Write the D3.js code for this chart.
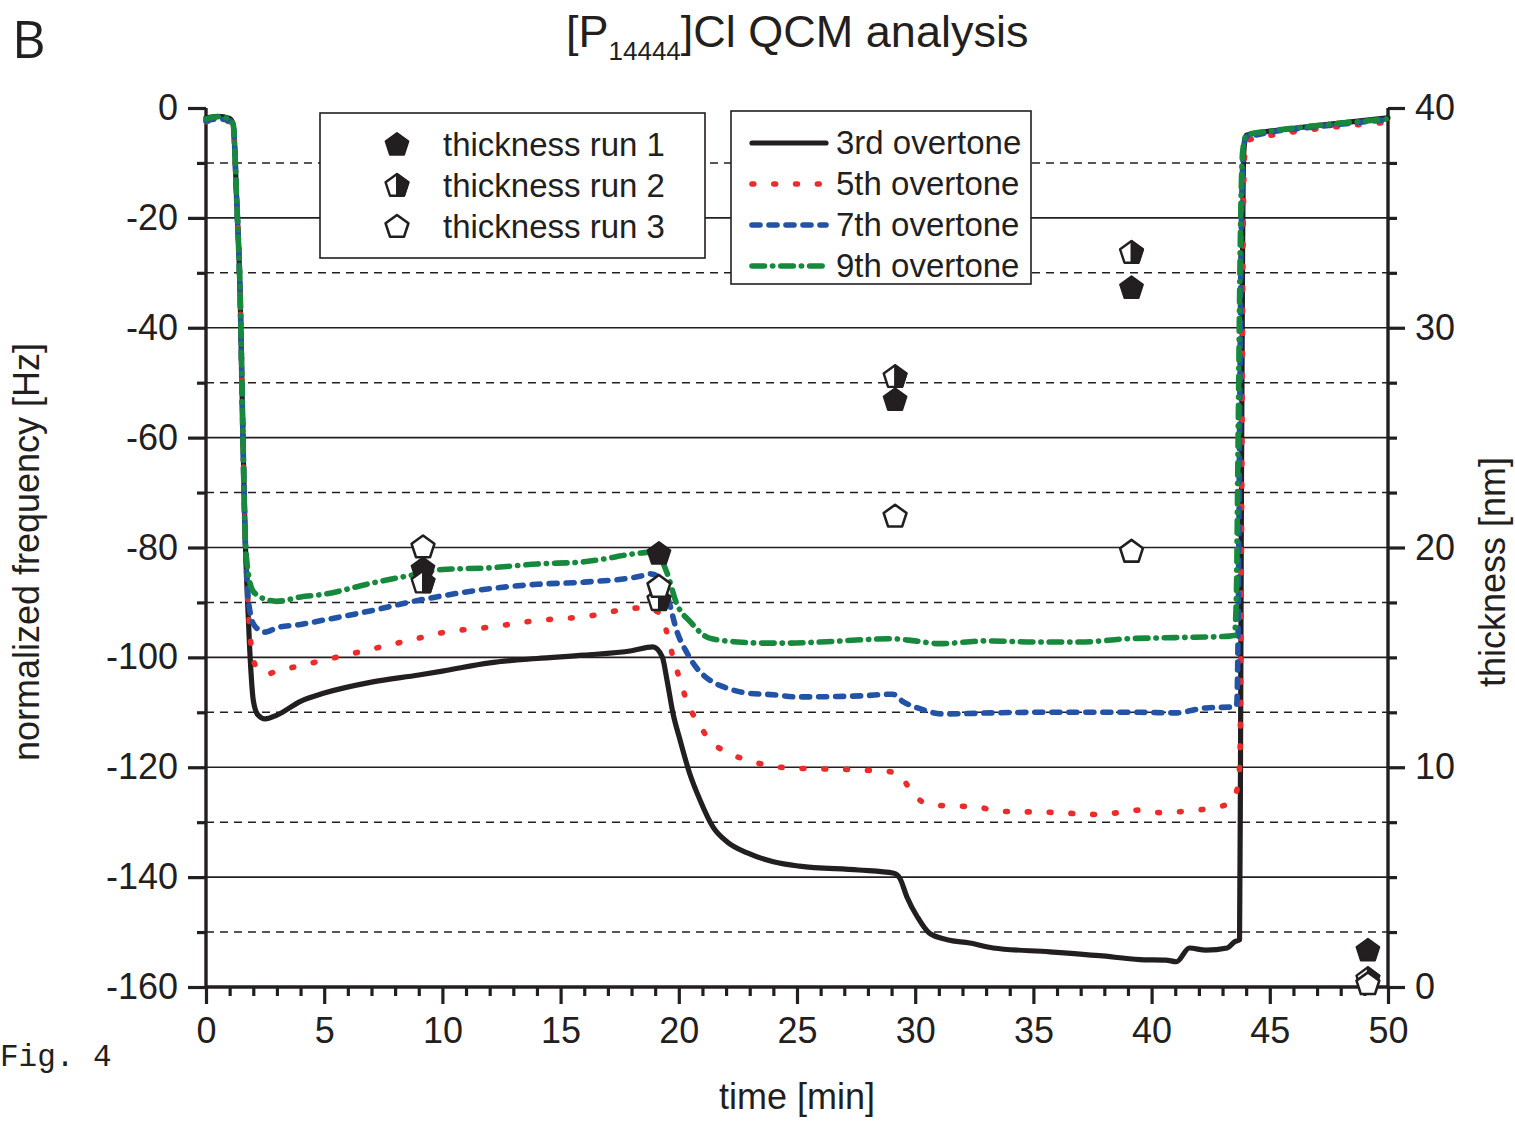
<!DOCTYPE html>
<html><head><meta charset="utf-8">
<script src="https://cdn.jsdelivr.net/npm/d3@7"></script>
<style>body{margin:0;background:#fff}svg{display:block}</style>
</head><body>
<svg id="c" width="1515" height="1121" font-family="Liberation Sans, Arial, sans-serif"></svg>
<script>
// ---- data ----
const t3 = [0,0.5,1.0,1.15,1.3,1.45,1.55,1.65,1.75,1.85,2.0,2.2,2.5,3,4,5,7,9,10,12,14,16,18,18.9,19.3,19.5,19.75,20.05,20.45,20.9,21.45,22.05,22.9,24,25.1,27.6,29.1,29.35,29.65,30.1,30.6,31.35,32.3,33.3,35.7,37.8,39.5,40.6,41.05,41.6,42.3,43.2,43.5,43.72,43.76,43.8,43.85,43.9,44.0,44.5,45,47,50];
const f3 = [-1.8,-1.5,-1.9,-3,-17,-35,-57,-77,-89,-98.6,-107.8,-110.5,-111.2,-110.5,-108,-106.5,-104.5,-103.2,-102.5,-101,-100.2,-99.6,-98.8,-98.1,-99.9,-104.1,-110.1,-115,-121,-126,-130.9,-133.6,-135.6,-137.2,-138.0,-138.7,-139.3,-140.2,-143.6,-147.3,-150.2,-151.4,-152.0,-152.9,-153.6,-154.3,-155.0,-155.1,-155.4,-152.9,-153.3,-152.9,-151.8,-151.4,-120,-70,-25,-8,-5,-4.5,-4.2,-3.2,-1.8];
const t5 = [0,0.5,1.0,1.15,1.3,1.45,1.55,1.65,1.75,1.85,2.0,2.3,2.6,3,4,5,7,9,10,12,14,16,18.4,19.1,19.55,19.75,20.05,20.35,20.8,21.3,22.1,22.9,23.7,24.6,27.7,29.1,29.35,29.8,30.4,31.2,32.6,33.5,35.7,37.8,39.5,40.5,41.2,41.9,42.6,43.3,43.5,43.65,43.74,43.8,43.86,43.92,44.0,44.3,45,47,50];
const f5 = [-2.5,-2.2,-2.5,-3.5,-17,-35,-57,-77,-88,-95,-100.5,-102.5,-103,-102.5,-101.5,-100.5,-98.5,-96.5,-95.5,-94.5,-93.3,-92.6,-91.0,-91.7,-96.3,-99.9,-104.1,-108.1,-111.8,-115,-117.4,-118.7,-119.6,-120.1,-120.5,-120.9,-121.4,-124.1,-126.5,-127,-127.2,-128,-128.2,-128.6,-127.8,-128.3,-128.1,-127.8,-127.4,-126.5,-125.4,-123.2,-118,-80,-30,-10,-6,-5.6,-5.0,-3.8,-2.6];
const t7 = [0,0.5,1.0,1.15,1.3,1.45,1.55,1.65,1.75,1.9,2.1,2.5,3,4,5,7,9,10,12,14,16,18.4,18.8,19.2,19.6,19.9,20.35,20.75,21.3,22.05,22.9,24,25,27.7,29.05,29.5,30.1,31.2,33.3,35,37,39.5,41,42.3,43.5,43.6,43.66,43.72,43.8,43.9,44.0,44.3,45,47,50];
const f7 = [-2.3,-2,-2.3,-3.2,-17,-35,-57,-77,-87,-92.5,-94.5,-95.4,-94.6,-94,-93.2,-91.5,-89.6,-88.8,-87.5,-86.7,-86.3,-85.2,-84.8,-85.5,-90.1,-95,-99.2,-101.9,-104.1,-105.6,-106.5,-106.8,-107.2,-107,-106.7,-108.1,-109.2,-110.3,-110.1,-110,-110,-110,-110.1,-109.2,-109,-108.6,-95,-60,-20,-7,-5.2,-5,-4.4,-3.4,-2.1];
const t9 = [0,0.5,1.0,1.15,1.3,1.45,1.55,1.65,1.8,2.0,2.5,3,4,5,7,9,10,12,14,16,18.4,19.0,19.5,19.9,20.5,21.3,22.5,23.6,24.6,26,27.7,29,30,31,33,35,37,39,41,43,43.5,43.58,43.66,43.75,43.85,44.0,44.3,45,47,50];
const f9 = [-2,-1.6,-2,-3,-17,-35,-57,-77,-85,-88,-89.4,-89.8,-89,-88.5,-86.5,-84.8,-84,-83.7,-83,-82.6,-81,-80.8,-84.6,-90.1,-93.6,-96.5,-97.2,-97.4,-97.4,-97.2,-96.8,-96.6,-97,-97.5,-97,-97.2,-97.2,-96.6,-96.4,-96.2,-96.0,-90,-60,-25,-8,-5,-4.6,-4.2,-3.2,-2];

const thickTime = [9.18,19.16,29.15,39.15,49.15];
const run1 = [19.0,19.7,26.7,31.8,1.65];
const run2 = [18.4,17.6,27.75,33.4,0.35];
const run3 = [20.0,18.2,21.4,19.8,0.12];

const seriesNames = ["3rd overtone","5th overtone","7th overtone","9th overtone"];
const runNames = ["thickness run 1","thickness run 2","thickness run 3"];
const xTicksMajor = [0,5,10,15,20,25,30,35,40,45,50];
const yLeftMajor = [0,-20,-40,-60,-80,-100,-120,-140,-160];
const yRightMajor = [0,10,20,30,40];

// ---- layout ----
const svg = d3.select("#c");
const K = "#231f20";
const x = d3.scaleLinear().domain([0,50]).range([206,1388]);
const yL = d3.scaleLinear().domain([-160,0]).range([987,108]);
const yR = d3.scaleLinear().domain([0,40]).range([987,108]);

// gridlines
const grid = svg.append("g");
d3.range(-140,0,20).forEach(v=>{
  grid.append("line").attr("x1",x(0)).attr("x2",x(50)).attr("y1",yL(v)).attr("y2",yL(v))
    .attr("stroke",K).attr("stroke-width",1.7);
});
d3.range(-150,0,20).forEach(v=>{
  grid.append("line").attr("x1",x(0)).attr("x2",x(50)).attr("y1",yL(v)).attr("y2",yL(v))
    .attr("stroke",K).attr("stroke-width",1.6).attr("stroke-dasharray","8,6");
});

const fmt = d=>String(d);
function styleAxis(g){
  g.selectAll(".domain").remove();
  g.selectAll("line").attr("stroke",K).attr("stroke-width",3.2);
  g.selectAll("text").attr("font-size",36).attr("fill",K).style("font-family","Liberation Sans, Arial, sans-serif");
}
// left
svg.append("g").attr("transform",`translate(${x(0)},0)`)
  .call(d3.axisLeft(yL).tickValues(d3.range(-150,0,20)).tickSize(9).tickFormat(""))
  .call(styleAxis);
svg.append("g").attr("transform",`translate(${x(0)},0)`)
  .call(d3.axisLeft(yL).tickValues(yLeftMajor).tickSize(18).tickPadding(10).tickFormat(fmt))
  .call(styleAxis);
// bottom
svg.append("g").attr("transform",`translate(0,${yL(-160)})`)
  .call(d3.axisBottom(x).tickValues(d3.range(1,50,1).filter(v=>v%5)).tickSize(9).tickFormat(""))
  .call(styleAxis);
svg.append("g").attr("transform",`translate(0,${yL(-160)})`)
  .call(d3.axisBottom(x).tickValues(xTicksMajor).tickSize(17).tickPadding(13).tickFormat(fmt))
  .call(styleAxis);
// right
svg.append("g").attr("transform",`translate(${x(50)},0)`)
  .call(d3.axisRight(yR).tickValues(d3.range(2.5,40,2.5).filter(v=>v%10)).tickSize(9).tickFormat(""))
  .call(styleAxis);
svg.append("g").attr("transform",`translate(${x(50)},0)`)
  .call(d3.axisRight(yR).tickValues(yRightMajor).tickSize(17).tickPadding(10).tickFormat(fmt))
  .call(styleAxis);
// axis lines
svg.append("line").attr("x1",x(0)).attr("x2",x(0)).attr("y1",yL(0)).attr("y2",yL(-160)+1.5).attr("stroke",K).attr("stroke-width",3.4);
svg.append("line").attr("x1",x(50)).attr("x2",x(50)).attr("y1",yL(0)).attr("y2",yL(-160)+1.5).attr("stroke",K).attr("stroke-width",3.4);
svg.append("line").attr("x1",x(0)).attr("x2",x(50)).attr("y1",yL(-160)).attr("y2",yL(-160)).attr("stroke",K).attr("stroke-width",3.4);

// legend boxes
svg.append("rect").attr("x",320).attr("y",113).attr("width",385).attr("height",145).attr("fill","#fff").attr("stroke",K).attr("stroke-width",1.6);
svg.append("rect").attr("x",731).attr("y",111).attr("width",300).attr("height",173).attr("fill","#fff").attr("stroke",K).attr("stroke-width",1.6);

// data lines
const styles = [
  {c:K, d:null, w:5.2},
  {c:"#ec2b2b", d:"1.8,20", w:5.6},
  {c:"#2353a4", d:"8,9", w:5.6},
  {c:"#16893d", d:"12.5,8,0.3,8", w:5.6}
];
const sets = [[t3,f3],[t5,f5],[t7,f7],[t9,f9]];
const line = d3.line().x(d=>x(d[0])).y(d=>yL(d[1])).curve(d3.curveMonotoneX);
sets.forEach((s,i)=>{
  const pts = s[0].map((t,j)=>[t,s[1][j]]);
  const st = styles[i];
  svg.append("path").attr("d",line(pts)).attr("fill","none").attr("stroke",st.c)
    .attr("stroke-width",st.w).attr("stroke-linecap","round").attr("stroke-linejoin","round")
    .attr("stroke-dasharray",st.d);
});

// pentagon markers
const R = 12;
function pent(r){
  return d3.range(5).map(k=>{const a=(-90+72*k)*Math.PI/180;return [r*Math.cos(a),r*Math.sin(a)];});
}
const P = pent(R);
const pentPath = "M"+P.map(p=>p.join(",")).join("L")+"Z";
const rightHalf = "M"+[P[0],P[1],P[2],[0,P[2][1]]].map(p=>p.join(",")).join("L")+"Z";
function marker(g,kind,cx,cy){
  const m = g.append("g").attr("transform",`translate(${cx},${cy})`);
  if(kind===0){
    m.append("path").attr("d",pentPath).attr("fill",K).attr("stroke",K).attr("stroke-width",2).attr("stroke-linejoin","round");
  } else if(kind===1){
    m.append("path").attr("d",pentPath).attr("fill","#fff").attr("stroke",K).attr("stroke-width",2.4).attr("stroke-linejoin","round");
    m.append("path").attr("d",rightHalf).attr("fill",K).attr("stroke",K).attr("stroke-width",2).attr("stroke-linejoin","round");
  } else {
    m.append("path").attr("d",pentPath).attr("fill","#fff").attr("stroke",K).attr("stroke-width",2.6).attr("stroke-linejoin","round");
  }
}
const mk = svg.append("g");
[run1,run2,run3].forEach((run,k)=>{
  run.forEach((v,j)=>marker(mk,k,x(thickTime[j]),yR(v)));
});

// legends content
runNames.forEach((n,k)=>{
  const cy = 145 + k*41;
  marker(svg,k,397,cy);
  svg.append("text").attr("x",443).attr("y",cy+11).attr("font-size",33).attr("fill",K).text(n);
});
seriesNames.forEach((n,k)=>{
  const cy = 143 + k*41;
  const st = styles[k];
  svg.append("line").attr("x1",752).attr("x2",826).attr("y1",cy).attr("y2",cy).attr("stroke",st.c)
    .attr("stroke-width",st.w).attr("stroke-linecap","round").attr("stroke-dasharray",st.d);
  svg.append("text").attr("x",836).attr("y",cy+11).attr("font-size",33).attr("fill",K).text(n);
});

// titles
const title = svg.append("text").attr("x",566).attr("y",47).attr("font-size",45).attr("fill",K);
title.append("tspan").text("[P");
title.append("tspan").attr("font-size",26).attr("dy",13).text("14444");
title.append("tspan").attr("dy",-13).text("]Cl QCM analysis");

svg.append("text").attr("x",12).attr("y",58).attr("font-size",52).attr("fill",K).style("font-family","'Open Sans', sans-serif").text("B");
svg.append("text").attr("x",0).attr("y",1066).attr("font-size",31).attr("fill",K).style("font-family","'Liberation Mono', monospace").text("Fig. 4");

svg.append("text").attr("transform","translate(39,552) rotate(-90)").attr("text-anchor","middle").attr("font-size",36).attr("fill",K).text("normalized frequency [Hz]");
svg.append("text").attr("transform","translate(1505,572) rotate(-90)").attr("text-anchor","middle").attr("font-size",36).attr("fill",K).text("thickness [nm]");
svg.append("text").attr("x",797).attr("y",1109).attr("text-anchor","middle").attr("font-size",36).attr("fill",K).text("time [min]");
</script>
</body></html>
